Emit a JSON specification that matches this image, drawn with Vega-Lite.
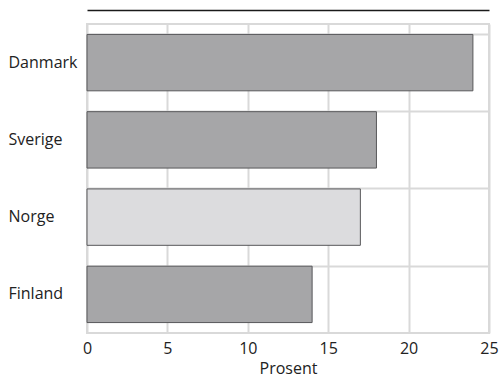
{
  "$schema": "https://vega.github.io/schema/vega-lite/v6.json",
  "autosize": {"type": "none"},
  "padding": {"left": 87, "top": 24, "right": 10, "bottom": 59},
  "width": 402,
  "height": 309,
  "background": "white",
  "config": {
    "view": {"stroke": "#d9d9d9", "strokeWidth": 2},
    "font": "Open Sans"
  },
  "data": {
    "values": [
      {"land": "Danmark", "prosent": 24, "type": "andre"},
      {"land": "Sverige", "prosent": 18, "type": "andre"},
      {"land": "Norge", "prosent": 17, "type": "norge"},
      {"land": "Finland", "prosent": 14, "type": "andre"}
    ]
  },
  "encoding": {
    "y": {
      "field": "land",
      "type": "nominal",
      "sort": null,
      "scale": {"paddingInner": 0.27, "paddingOuter": 0.135},
      "axis": {
        "title": null,
        "domain": false,
        "ticks": false,
        "grid": true,
        "bandPosition": 0,
        "gridColor": "#d9d9d9",
        "gridWidth": 2,
        "labelAlign": "left",
        "labelPadding": 79,
        "labelFontSize": 16,
        "labelColor": "#222222",
        "labelFont": "Open Sans"
      }
    },
    "color": {
      "field": "type",
      "type": "nominal",
      "scale": {"domain": ["andre", "norge"], "range": ["#a6a6a8", "#dcdcde"]},
      "legend": null
    }
  },
  "layer": [
    {
      "mark": {"type": "bar", "stroke": "#58585a", "strokeWidth": 1},
      "encoding": {
        "x": {
          "field": "prosent",
          "type": "quantitative",
          "scale": {"domain": [0, 25], "nice": false},
          "axis": {
            "title": "Prosent",
            "titleFontSize": 16,
            "titleFontWeight": "normal",
            "titleColor": "#222222",
            "titleFont": "Open Sans",
            "titlePadding": 4,
            "values": [0, 5, 10, 15, 20, 25],
            "domain": false,
            "ticks": false,
            "grid": true,
            "gridColor": "#d9d9d9",
            "gridWidth": 2,
            "labelFlush": false,
            "labelFontSize": 16,
            "labelColor": "#222222",
            "labelFont": "Open Sans",
            "labelPadding": 7,
            "encode": {"labels": {"update": {"dy": {"signal": "datum.value === 5 ? 4 : 0"}}}}
          }
        }
      }
    },
    {
      "mark": {"type": "bar", "opacity": 0},
      "encoding": {
        "x": {
          "field": "prosent",
          "type": "quantitative",
          "axis": {
            "orient": "top",
            "title": null,
            "labels": false,
            "ticks": false,
            "grid": false,
            "domain": true,
            "domainColor": "#1a1a1a",
            "domainWidth": 1.5,
            "offset": 14
          }
        }
      }
    }
  ],
  "resolve": {"axis": {"x": "independent"}}
}
